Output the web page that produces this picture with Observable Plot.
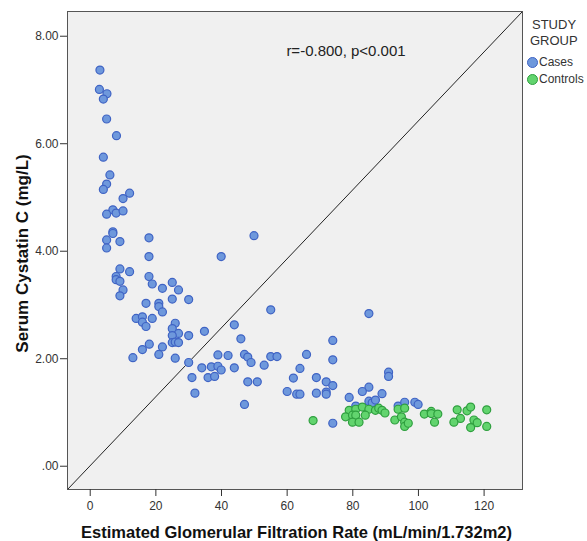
<!DOCTYPE html>
<html><head><meta charset="utf-8">
<script src="https://cdn.jsdelivr.net/npm/d3@7"></script>
<script src="https://cdn.jsdelivr.net/npm/@observablehq/plot@0.6"></script>
<style>
body{margin:0;background:#fff;font-family:"Liberation Sans",Arial,sans-serif}
#wrap{position:relative;width:587px;height:541px}
.lg{position:absolute;color:#333;font-size:12.5px;white-space:nowrap}
.sw{position:absolute;width:11px;height:11px;border-radius:50%;box-sizing:border-box;border:1px solid}
</style></head><body><div id="wrap"></div>
<script>
const casesX = [2.96,2.8,5.1,4.0,5.0,8.0,4.0,6.0,5.0,4.0,12.0,10.0,6.9,5.0,7.9,10.0,6.9,6.9,5.0,9.05,17.9,49.9,5.0,
  17.9,39.9,9.05,12.0,7.9,7.9,9.05,10.0,9.05,17.9,18.9,25.0,22.0,26.9,25.0,30.0,17.0,20.9,20.9,22.0,14.0,15.9,15.9,17.0,18.9,
  25.9,25.0,26.9,25.0,30.0,25.0,25.9,26.9,34.8,18.0,15.9,22.0,13.0,20.9,25.9,43.9,45.9,38.9,42.0,47.0,48.0,49.0,30.0,34.0,
  36.9,38.9,39.9,43.9,31.0,35.9,37.9,48.0,50.9,31.9,47.0,55.0,84.9,73.9,73.9,55.0,56.9,65.9,53.0,63.9,61.9,68.9,71.9,73.9,
  60.0,62.9,63.9,68.9,71.9,71.9,90.9,90.9,84.9,82.9,88.9,78.9,84.9,85.9,86.9,80.9,93.8,95.8,98.9,99.9,73.9];
const casesY = [7.37,7.01,6.93,6.83,6.46,6.15,5.75,5.42,5.25,5.15,5.08,4.98,4.77,4.69,4.71,4.75,4.36,4.33,4.21,4.18,4.25,4.29,4.06,
  3.90,3.90,3.67,3.62,3.53,3.47,3.44,3.28,3.17,3.53,3.39,3.42,3.31,3.28,3.11,3.10,3.03,3.03,2.97,2.87,2.75,2.78,2.68,2.60,2.75,
  2.66,2.56,2.47,2.43,2.43,2.30,2.31,2.30,2.51,2.27,2.17,2.22,2.02,2.08,2.01,2.63,2.37,2.07,2.06,2.08,2.03,1.93,1.93,1.83,
  1.85,1.86,1.79,1.83,1.65,1.65,1.67,1.57,1.57,1.36,1.15,2.91,2.84,2.34,1.98,2.04,2.04,2.08,1.88,1.82,1.64,1.65,1.57,1.50,
  1.39,1.34,1.34,1.36,1.38,1.34,1.75,1.67,1.47,1.39,1.35,1.28,1.21,1.18,1.23,1.12,1.12,1.19,1.19,1.15,0.80];
const controlsX = [67.9,78.9,80.9,82.9,84.9,86.9,87.9,88.9,89.8,77.8,79.9,80.9,83.8,79.9,81.9,93.8,95.8,92.8,94.8,95.8,95.8,96.9,
  101.8,103.9,103.9,105.9,104.9,111.8,114.8,115.9,112.8,110.8,116.9,117.9,115.9,120.8,120.8];
const controlsY = [0.85,1.04,1.06,1.10,1.06,1.04,1.08,1.04,0.99,0.92,0.95,0.95,0.95,0.82,0.82,1.06,1.08,0.86,0.92,0.82,0.74,0.80,
  0.97,1.02,0.98,0.97,0.82,1.05,1.03,1.10,0.89,0.82,0.86,0.81,0.72,1.05,0.74];
const groups = ["Cases","Controls"];
const fills = ["#6e98dc","#62d46e"];
const strokes = ["#3f63c4","#2f9f3f"];
const xTicks = [0,20,40,60,80,100,120];
const yTicks = [0,2,4,6,8];
const xDomain = [-6.92,131.7];
const yDomain = [-0.433,8.46];
const annotation = "r=-0.800, p<0.001";
const xLabel = "Estimated Glomerular Filtration Rate (mL/min/1.732m2)";
const yLabel = "Serum Cystatin C (mg/L)";

const cases = casesX.map((x,i)=>({x, y:casesY[i]}));
const controls = controlsX.map((x,i)=>({x, y:controlsY[i]}));
const diag = [{x:xDomain[0], y:yDomain[0]},{x:xDomain[1], y:yDomain[1]}];

const chart = Plot.plot({
  width:587, height:541,
  marginLeft:67, marginRight:65, marginTop:11, marginBottom:52,
  style:{fontFamily:"'Liberation Sans', Arial, sans-serif", fontSize:"12px", background:"transparent", overflow:"visible"},
  x:{domain:xDomain},
  y:{domain:yDomain},
  marks:[
    Plot.frame({fill:"#f0f0f0", stroke:"none"}),
    Plot.line(diag, {x:"x", y:"y", stroke:"#222", strokeWidth:1}),
    Plot.dot(cases, {x:"x", y:"y", r:4, fill:fills[0], stroke:strokes[0], strokeWidth:1.2}),
    Plot.dot(controls, {x:"x", y:"y", r:4, fill:fills[1], stroke:strokes[1], strokeWidth:1.2}),
    Plot.frame({stroke:"#555", strokeWidth:1}),
    Plot.axisX({ticks:xTicks, tickSize:7, tickPadding:5, label:null, color:"#333", fontSize:12}),
    Plot.axisY({ticks:yTicks, tickSize:7, tickPadding:2, label:null, color:"#333", fontSize:12,
      tickFormat:d => d===0 ? ".00" : d.toFixed(2)}),
    Plot.text([annotation], {frameAnchor:"top", lineAnchor:"middle", dx:51, dy:39.5, fontSize:15, fill:"#222"}),
    Plot.text([xLabel], {frameAnchor:"bottom", lineAnchor:"middle", textAnchor:"middle", dx:1.5, dy:43, fontSize:16.5, fontWeight:"bold", fill:"#111"}),
    Plot.text([yLabel], {frameAnchor:"left", lineAnchor:"middle", textAnchor:"middle", dx:-45, dy:3, rotate:-90, fontSize:17, fontWeight:"bold", fill:"#111"})
  ]
});
const wrap = document.getElementById("wrap");
wrap.appendChild(chart);

function addText(t, left, top, cls){ const d=document.createElement("div"); d.className=cls; d.textContent=t; d.style.left=left+"px"; d.style.top=top+"px"; wrap.appendChild(d); return d; }
const t1 = addText("STUDY", 532, 17, "lg"); t1.style.fontSize="13px";
const t2 = addText("GROUP", 530, 33, "lg"); t2.style.fontSize="13px";
groups.forEach((g,i)=>{
  const s=document.createElement("div"); s.className="sw";
  s.style.left="527px"; s.style.top=(57+i*16.5)+"px";
  s.style.background=fills[i]; s.style.borderColor=strokes[i];
  wrap.appendChild(s);
  const d=addText(g, 539, 55+i*16.5, "lg"); d.style.fontSize="12px";
});
</script></body></html>
